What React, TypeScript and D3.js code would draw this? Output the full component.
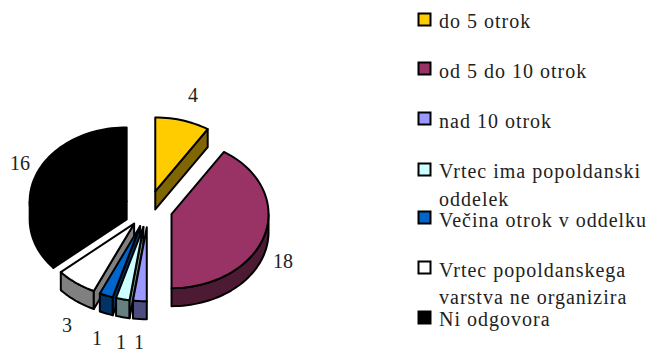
import React from "react";
import * as d3 from "d3";

const categories = ["do 5 otrok", "od 5 do 10 otrok", "nad 10 otrok", "Vrtec ima popoldanski oddelek", "Večina otrok v oddelku", "Vrtec popoldanskega varstva ne organizira", "Ni odgovora"];
const values = [4, 18, 1, 1, 1, 3, 16];
const topColors = ["#ffcc00", "#993366", "#9999ff", "#ccffff", "#0066cc", "#ffffff", "#000000"];
const sideColors = ["#806600", "#4d1a33", "#4d4d80", "#668080", "#003366", "#808080", "#000000"];
const legendLines = [["do 5 otrok"], ["od 5 do 10 otrok"], ["nad 10 otrok"], ["Vrtec ima popoldanski", "oddelek"], ["Večina otrok v oddelku"], ["Vrtec popoldanskega", "varstva ne organizira"], ["Ni odgovora"]];
const legendTop = [13, 62, 112, 163, 211, 261, 311];
const legendBase = [[28], [78], [128], [178, 206], [227], [277, 304], [326]];
const labelPos = [[193, 102], [283, 268], [139, 349], [121, 349], [97, 345], [67, 332], [20, 170]];
const drawOrder = [0, 6, 1, 5, 4, 3, 2];

const CX = 148.5, CY = 209, RX = 97, RY = 74, DEPTH = 18, EXPLODE = 24;
const serif = "'Liberation Serif', serif";

export default function App() {
  const arcs = d3.pie<number>().sort(null)(values);
  const ux = d3.scaleLinear().domain([-1, 1]).range([-RX, RX]);
  const uy = d3.scaleLinear().domain([-1, 1]).range([-RY, RY]);
  const line = d3.line();

  const slices = arcs.map((a, i) => {
    const mid = (a.startAngle + a.endAngle) / 2;
    const ax = CX + ux(Math.sin(mid)) * EXPLODE / RX;
    const ay = CY + uy(-Math.cos(mid)) * EXPLODE / RX;
    const pt = (t: number, dz = 0): [number, number] => [ax + ux(Math.sin(t)), ay + uy(-Math.cos(t)) + dz];
    const sample = (s: number, e: number, dz = 0) => {
      const n = Math.max(2, Math.ceil((e - s) / 0.04));
      return d3.range(n + 1).map(k => pt(s + (e - s) * k / n, dz));
    };
    const apex: [number, number] = [ax, ay];
    const apexLow: [number, number] = [ax, ay + DEPTH];
    const top = line([apex, ...sample(a.startAngle, a.endAngle)])! + "Z";
    const walls: string[] = [];
    const s = Math.max(a.startAngle, Math.PI / 2), e = Math.min(a.endAngle, 1.5 * Math.PI);
    if (e > s) walls.push(line([...sample(s, e), ...sample(s, e, DEPTH).reverse()])! + "Z");
    if (a.startAngle > Math.PI && a.startAngle < 2 * Math.PI) walls.push(line([apex, pt(a.startAngle), pt(a.startAngle, DEPTH), apexLow])! + "Z");
    if (a.endAngle > 0 && a.endAngle < Math.PI) walls.push(line([apex, pt(a.endAngle), pt(a.endAngle, DEPTH), apexLow])! + "Z");
    return { i, top, walls };
  });

  return (
    <svg width={648} height={353} style={{ position: "absolute", left: 0, top: 0, background: "#fff" }}>
      {drawOrder.map(i => {
        const sl = slices[i];
        return (
          <g key={categories[i]} stroke="#000" strokeWidth={2} strokeLinejoin="round">
            {sl.walls.map((d, k) => <path key={k} d={d} fill={sideColors[i]} />)}
            <path d={sl.top} fill={topColors[i]} />
          </g>
        );
      })}
      {values.map((v, i) => (
        <text key={i} x={labelPos[i][0]} y={labelPos[i][1]} textAnchor="middle" fontFamily={serif} fontSize={20} fill="#222">{v}</text>
      ))}
      {categories.map((c, i) => (
        <g key={c}>
          <rect x={418.5} y={legendTop[i] + 0.5} width={12} height={12} fill={topColors[i]} stroke="#000" strokeWidth={2} />
          {legendLines[i].map((t, k) => (
            <text key={k} x={439} y={legendBase[i][k]} fontFamily={serif} fontSize={20} letterSpacing={1} fill="#222">{t}</text>
          ))}
        </g>
      ))}
    </svg>
  );
}
